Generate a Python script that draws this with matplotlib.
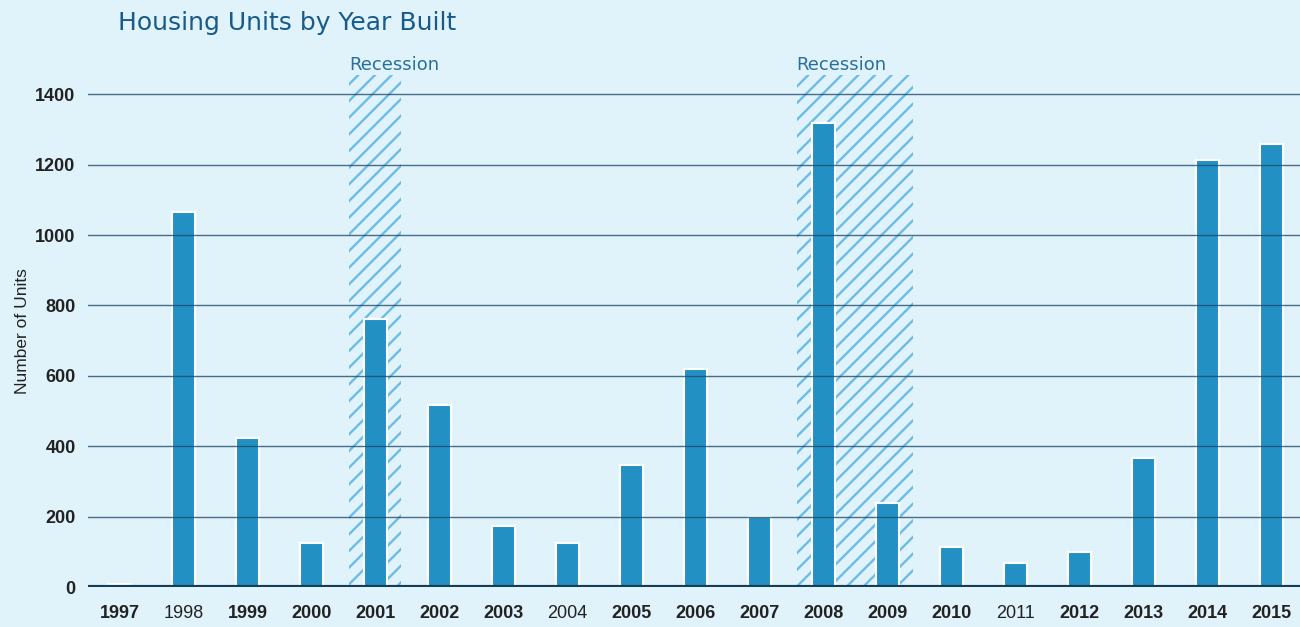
import matplotlib.pyplot as plt
import numpy as np

plt.rcParams['font.family'] = ['Liberation Sans', 'DejaVu Sans']
plt.rcParams['hatch.linewidth'] = 1.7

years = ['1997', '1998', '1999', '2000', '2001', '2002', '2003', '2004', '2005', '2006',
         '2007', '2008', '2009', '2010', '2011', '2012', '2013', '2014', '2015']
units = [8, 1065, 423, 125, 761, 517, 173, 125, 346, 619,
         199, 1318, 239, 114, 68, 99, 366, 1213, 1258]
recessions = [('2001', '2001'), ('2008', '2009')]
light_labels = ['1998', '2004', '2011']

bg = '#e0f3fb'
bar_color = '#2290c3'
hatch_color = '#6bbde8'

fig = plt.figure(figsize=(13, 6.27), dpi=100, facecolor=bg)
ax = fig.add_axes([88 / 1300, 1 - 587 / 627, 1 - 88 / 1300, 512 / 627])
ax.set_facecolor(bg)

x = np.arange(len(years))
ax.bar(x, units, width=0.36, color=bar_color, edgecolor='white', linewidth=1.5, zorder=2)

# shaded recession periods with hatching
ymax = 1455
for start, end in recessions:
    x0 = years.index(start) - 0.42
    x1 = years.index(end) + 0.4
    ax.axvspan(x0, x1, facecolor='none', edgecolor=hatch_color, hatch='//', linewidth=0, zorder=1)
    ax.text(x0, ymax + 3, 'Recession', color='#2a6f9a', fontsize=13, ha='left', va='bottom',
            family='DejaVu Sans')

ax.set_xlim(-0.5, 18.45)
ax.set_ylim(0, ymax)
ax.set_yticks(range(0, 1401, 200))
ax.yaxis.grid(True, color='#1f4d6b', linewidth=1, alpha=0.8, zorder=3)
ax.set_axisbelow(False)
ax.axhline(0, color='#173c55', linewidth=3, zorder=4)

ax.set_xticks(x)
ax.set_xticklabels(years)
for lbl in ax.get_xticklabels():
    lbl.set_fontweight('normal' if lbl.get_text() in light_labels else 'bold')
for lbl in ax.get_yticklabels():
    lbl.set_fontweight('bold')
ax.tick_params(axis='both', length=0, labelsize=13, colors='#222222')
ax.tick_params(axis='x', pad=13)
ax.tick_params(axis='y', pad=9)
for s in ax.spines.values():
    s.set_visible(False)

ax.set_ylabel('Number of Units', fontsize=12.5, color='#222222', labelpad=4)
fig.text(118 / 1300, 1 - 23 / 627, 'Housing Units by Year Built', fontsize=18,
         color='#1a5a88', ha='left', va='center', family='DejaVu Sans')

fig.savefig('out.png', dpi=100, facecolor=bg)
